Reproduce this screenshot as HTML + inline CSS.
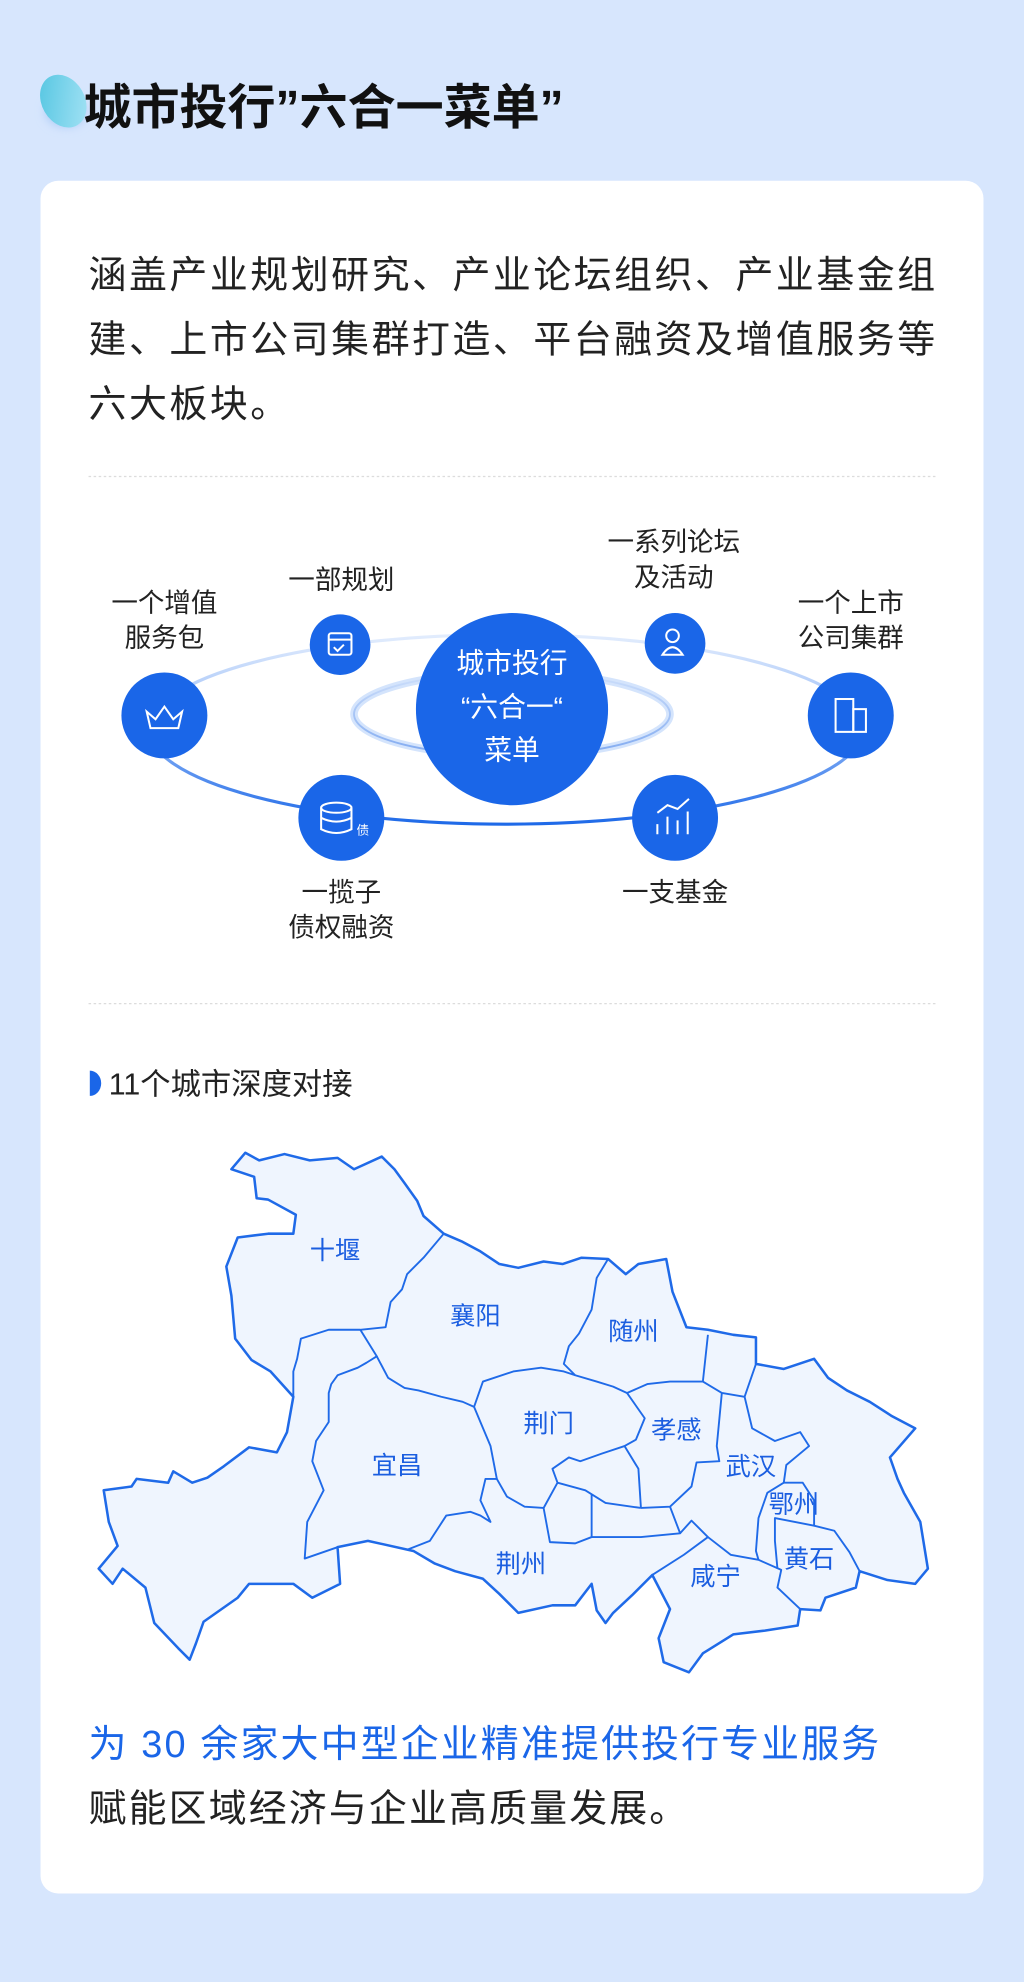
<!DOCTYPE html>
<html><head><meta charset="utf-8"><style>
html,body{margin:0;padding:0;background:#d7e6fd;}
svg{display:block}
text{font-family:"Liberation Sans","Noto Sans CJK SC",sans-serif}
</style></head><body>
<svg width="1024" height="1982" viewBox="0 0 810 1568" xmlns="http://www.w3.org/2000/svg">
<defs>
<linearGradient id="blob" x1="0" y1="0" x2="1" y2="1"><stop offset="0" stop-color="#4fc4e0"/><stop offset="1" stop-color="#a9e4f6"/></linearGradient>
<linearGradient id="ring" x1="0" y1="0" x2="0" y2="1"><stop offset="0" stop-color="#e3edfd"/><stop offset="0.5" stop-color="#8fb6f6"/><stop offset="1" stop-color="#1f6ae8"/></linearGradient>
<linearGradient id="ring2" x1="0" y1="0" x2="0" y2="1"><stop offset="0" stop-color="#cfe0fb"/><stop offset="1" stop-color="#7fa9f0"/></linearGradient>
<filter id="bl" x="-50%" y="-50%" width="200%" height="200%"><feGaussianBlur stdDeviation="4"/></filter>
</defs>
<rect width="810" height="1568" fill="#d7e6fd"/>
<ellipse cx="52" cy="88" rx="16" ry="12" fill="#a9c9f5" filter="url(#bl)"/>
<ellipse cx="50" cy="80" rx="17" ry="22" fill="url(#blob)" transform="rotate(-30 50 80)"/>
<text x="66" y="98" font-size="38" font-weight="bold" fill="#111">城市投行”六合一菜单”</text>
<rect x="32" y="143" width="746" height="1355" rx="14" fill="#fff"/>
<g font-size="30" fill="#222" letter-spacing="2">
<text x="70" y="228">涵盖产业规划研究、产业论坛组织、产业基金组</text>
<text x="70" y="279">建、上市公司集群打造、平台融资及增值服务等</text>
<text x="70" y="330">六大板块。</text>
</g>
<line x1="70" y1="377" x2="740" y2="377" stroke="#dcdcdc" stroke-dasharray="2 2"/>
<ellipse cx="400" cy="577" rx="282" ry="75" fill="none" stroke="url(#ring)" stroke-width="2.5"/>
<ellipse cx="405" cy="565" rx="125" ry="33" fill="none" stroke="#d4e4fc" stroke-width="6"/>
<ellipse cx="405" cy="565" rx="125" ry="33" fill="none" stroke="url(#ring2)" stroke-width="1.5"/>
<circle cx="405" cy="561" r="76" fill="#1a66e8"/>
<g font-size="22" fill="#fff" text-anchor="middle">
<text x="405" y="532">城市投行</text><text x="405" y="567">“六合一“</text><text x="405" y="601">菜单</text></g>
<g fill="#1a66e8">
<circle cx="269" cy="510" r="24"/><circle cx="534" cy="509" r="24"/>
<circle cx="130" cy="566" r="34"/><circle cx="673" cy="566" r="34"/>
<circle cx="270" cy="647" r="34"/><circle cx="534" cy="647" r="34"/></g>
<g fill="none" stroke="#fff" stroke-width="1.6">
<rect x="260" y="501" width="18" height="17" rx="2"/><line x1="260" y1="506" x2="278" y2="506"/><path d="M264 512l3 3 5-5"/>
<circle cx="532" cy="503" r="5"/><path d="M524 518q8-12 16 0z"/>
<path d="M116 563l7 6 7-10 7 10 7-6-3 13h-22z"/>
<rect x="661" y="553" width="14" height="26"/><rect x="675" y="561" width="10" height="18"/>
<ellipse cx="266" cy="639" rx="12" ry="4"/><path d="M254 639v17q12 6 24 0v-17M254 647q12 6 24 0"/>
<path d="M520 660v-8M528 660v-14M536 660v-11M544 660v-18M520 643l8-6 8 3 9-8"/></g>
<text x="282" y="660" font-size="10" fill="#fff">债</text>
<g font-size="21" fill="#222" text-anchor="middle">
<text x="270" y="466">一部规划</text>
<text x="533" y="436">一系列论坛</text><text x="533" y="464">及活动</text>
<text x="130" y="484">一个增值</text><text x="130" y="512">服务包</text>
<text x="673" y="484">一个上市</text><text x="673" y="512">公司集群</text>
<text x="270" y="713">一揽子</text><text x="270" y="741">债权融资</text>
<text x="534" y="713">一支基金</text></g>
<line x1="70" y1="794" x2="740" y2="794" stroke="#dcdcdc" stroke-dasharray="2 2"/>
<path d="M71 847a9 10 0 0 1 0 20z" fill="#1a66e8"/>
<text x="86" y="866" font-size="24" fill="#222">11个城市深度对接</text>
<g fill="#eff5fe" stroke="#1f6ae8" stroke-width="2" stroke-linejoin="round">
<path d="M183 925L194 912L205 918L225 913L245 918L267 916L280 925L302 915L312 925L320 936L330 950L335 962L351 976L365 982L380 990L395 1000L410 1003L430 998L445 1000L460 995L481 996L495 1008L505 1000L527 996L532 1022L543 1050L560 1052L580 1056L598 1058L598 1079L620 1083L644 1075L655 1090L670 1100L688 1109L705 1120L724 1130L704 1153L710 1170L715 1181L728 1204L734 1241L724 1253L702 1250L680 1243L677 1256L653 1264L649 1274L633 1273L631 1286L605 1290L580 1293L556 1308L545 1323L525 1315L521 1296L530 1273L516 1246L500 1262L485 1276L479 1284L472 1274L468 1253L455 1270L437 1270L410 1276L395 1261L382 1249L360 1243L344 1237L327 1227L291 1219L267 1224L269 1253L247 1264L232 1253L197 1253L188 1264L161 1283L155 1300L150 1313L141 1304L122 1284L115 1256L97 1241L89 1253L78 1241L93 1223L86 1204L82 1179L104 1176L108 1170L133 1173L137 1164L152 1173L164 1169L177 1160L197 1145L219 1149L227 1133L232 1105L214 1085L199 1076L186 1059L183 1025L179 1002L188 979L212 976L232 976L234 961L212 949L203 948L201 931Z"/>
</g>
<g fill="none" stroke="#1f6ae8" stroke-width="1.5" stroke-linejoin="round">
<path d="M351 976L335 995L322 1008L318 1020L309 1030L305 1050L285 1052L260 1052L238 1059L235 1075L232 1085L232 1105"/>
<path d="M285 1052L298 1073L290 1078L283 1082L267 1088L262 1095L260 1102L260 1125L250 1140L247 1156L256 1179L243 1204L241 1233L267 1224"/>
<path d="M298 1073L307 1090L320 1098L331 1100L349 1105L366 1109L375 1113"/>
<path d="M322 1226L340 1219L353 1199L372 1196L380 1199L388 1204L380 1187L384 1170L393 1170L388 1144L380 1125L375 1113L382 1093L406 1085L428 1082L446 1085L455 1088"/>
<path d="M481 996L472 1011L468 1036L458 1055L450 1065L446 1079L455 1088L472 1093L485 1097L496 1102L512 1095L530 1093L556 1093L560 1056"/>
<path d="M556 1093L571 1102L589 1105L598 1079"/>
<path d="M496 1102L510 1122L503 1139L494 1144L505 1162L507 1193"/>
<path d="M571 1102L567 1144L569 1156L551 1157L547 1176L530 1192L507 1193"/>
<path d="M494 1144L476 1150L459 1156L450 1153L437 1162L441 1173L463 1179L479 1189L507 1193"/>
<path d="M441 1173L430 1193L435 1220L455 1221L468 1216L477 1216L507 1216L538 1213L530 1192"/>
<path d="M468 1182L468 1216"/>
<path d="M430 1193L415 1192L401 1184L393 1170"/>
<path d="M516 1246L541 1230L560 1216L547 1203L538 1213"/>
<path d="M560 1216L578 1230L600 1234L618 1242L615 1256L633 1273"/>
<path d="M589 1105L595 1130L613 1140L633 1133L640 1144L622 1159L620 1173L607 1181L600 1201L598 1227L600 1234"/>
<path d="M620 1173L635 1173L644 1187L644 1207L613 1201L613 1219L615 1241"/>
<path d="M644 1207L660 1211L672 1228L680 1243"/>
</g>
<g font-size="20" fill="#1b5ee0" text-anchor="middle">
<text x="265" y="996">十堰</text><text x="376" y="1048">襄阳</text><text x="501" y="1060">随州</text>
<text x="434" y="1133">荆门</text><text x="535" y="1138">孝感</text><text x="314" y="1166">宜昌</text>
<text x="594" y="1167">武汉</text><text x="628" y="1197">鄂州</text><text x="640" y="1240">黄石</text>
<text x="412" y="1244">荆州</text><text x="566" y="1254">咸宁</text></g>
<text x="70" y="1390" font-size="30" fill="#1a66e8" letter-spacing="1.7">为 30 余家大中型企业精准提供投行专业服务</text>
<text x="70" y="1441" font-size="30" fill="#222" letter-spacing="1.7">赋能区域经济与企业高质量发展。</text>
</svg>
</body></html>
